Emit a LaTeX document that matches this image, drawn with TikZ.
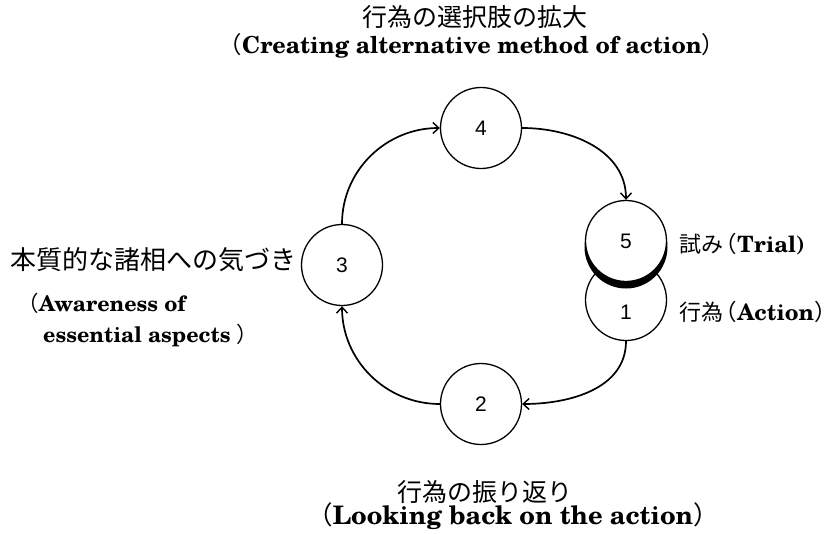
\documentclass[tikz,border=0pt]{standalone}
\usepackage{fontspec}
\newfontfamily\jp{Noto Sans CJK JP}
\newfontfamily\jpp[RawFeature=+halt]{Noto Sans CJK JP}
\newfontfamily\digitfont{Liberation Sans}
\newfontfamily\enb{texgyreschola-bold}[Extension=.otf]
\newcommand{\rjf}[1]{{\jp\mdseries\fontsize{22}{26}\selectfont #1}\hspace{3pt}}
\newcommand{\lp}{{\jpp\mdseries （}}
\newcommand{\rp}{{\jpp\mdseries ）}}
\usetikzlibrary{arrows.meta}
\begin{document}
\begin{tikzpicture}[x=1pt,y=-1pt,
  stage/.style={circle,draw,line width=1.3pt,fill=white,minimum size=81pt,inner sep=0pt,font=\digitfont\fontsize{21}{21}\selectfont},
  digit/.style={inner sep=0pt,font=\digitfont\fontsize{21}{21}\selectfont},
  flow/.style={line width=1.7pt,-{Straight Barb[length=6pt,width=11pt,line width=1.4pt]}},
  jtext/.style={inner sep=0pt,font=\jp\fontsize{25}{30}\selectfont},
  etext/.style={inner sep=0pt,font=\enb\fontsize{23.4}{26}\selectfont},
  rtext/.style={inner sep=0pt,font=\enb\fontsize{22.5}{30}\selectfont},
]
\useasboundingbox (0,0) rectangle (835,533);
% circles
\node[stage] (c4) at (481,128) {4};
\node[stage] (c3) at (342,265) {3};
\node[stage] (c2) at (481,404) {2};
\node[stage] (c1) at (626,300) {};
\node[digit] (n1) at (626,312) {1};
\fill[black] (626,247) circle (41.5pt);
\node[stage] (c5) at (626,241) {5};
% connectors
\draw[flow] (c3.north) to[out=90,in=180] (c4.west);
\draw[flow] (c4.east) to[out=0,in=90] (c5.north);
\draw[flow] (c1.south) to[out=-90,in=0] (c2.east);
\draw[flow] (c2.west) to[out=180,in=-90] (c3.south);
% labels
\node[jtext,anchor=base] (t4j) at (475,26) {行為の選択肢の拡大};
\node[etext,anchor=base] (t4e) at (472,53) {\lp Creating alternative method of action\rp};
\node[jtext,anchor=base west] (t2j) at (397,501) {行為の振り返り};
\node[etext,anchor=base east,font=\enb\fontsize{25.5}{30}\selectfont] (t2e) at (706,524) {\lp Looking back on the action\rp};
\node[jtext,anchor=base east,font=\jp\fontsize{26}{30}\selectfont] (t3j) at (297,269) {本質的な諸相への気づき};
\node[etext,anchor=base west,font=\enb\fontsize{21.5}{26}\selectfont] (t3e1) at (28,311) {\lp Awareness of};
\node[etext,anchor=base west,font=\enb\fontsize{21.5}{26}\selectfont] (t3e2) at (43,342) {essential aspects \rp};
\node[rtext,anchor=base west] (t5) at (679,252) {\rjf{試み}\lp Trial)};
\node[rtext,anchor=base west] (t1) at (679,320) {\rjf{行為}\lp Action\rp};
\end{tikzpicture}
\end{document}
